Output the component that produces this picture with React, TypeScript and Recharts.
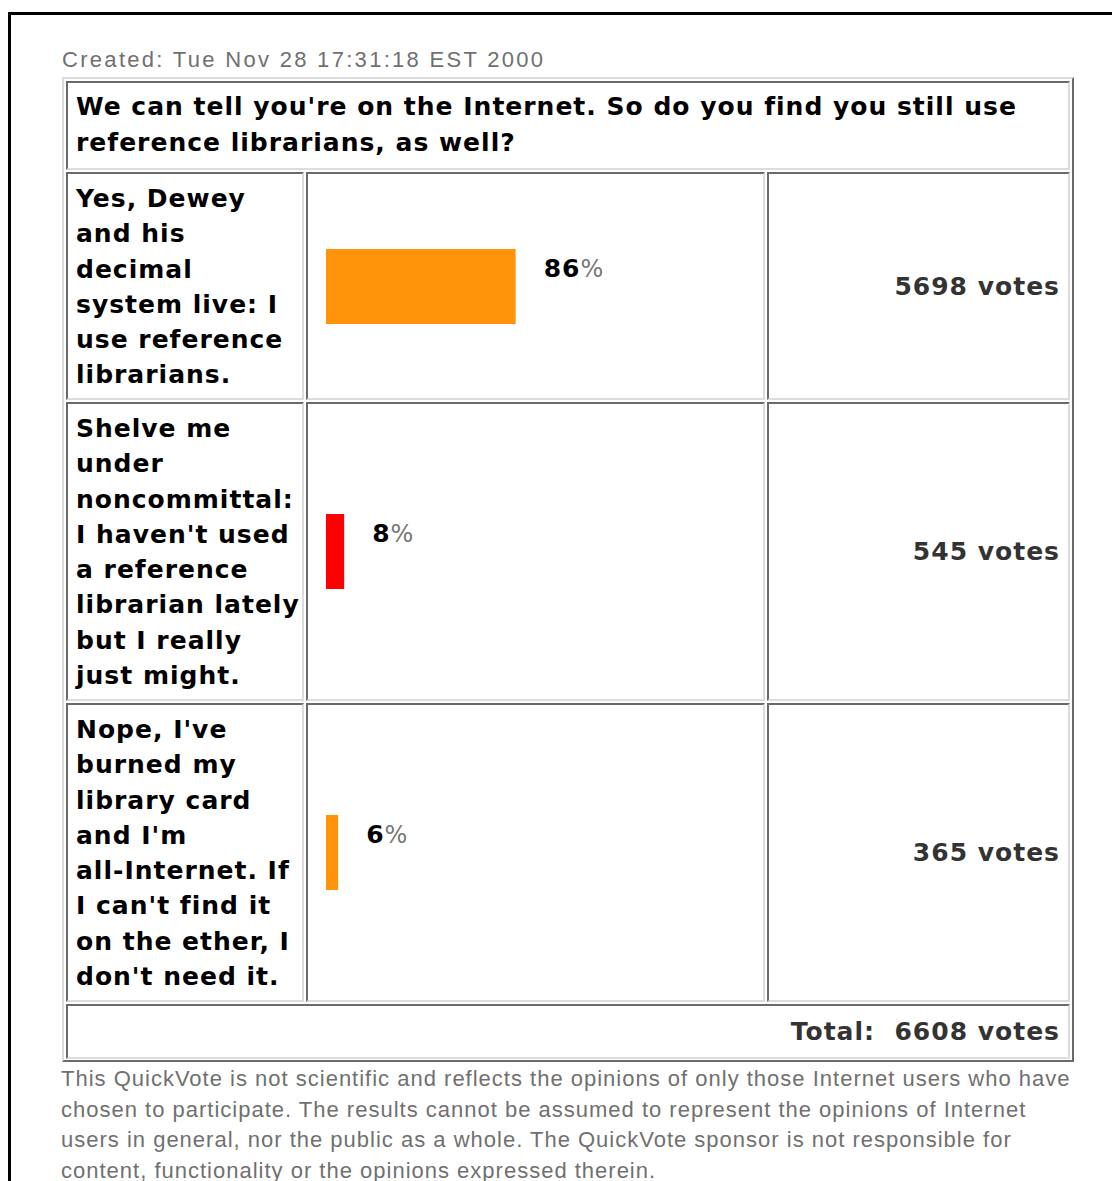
import React from "react";
import { BarChart, Bar, XAxis, YAxis } from "recharts";

const createdText = "Created: Tue Nov 28 17:31:18 EST 2000";
const questionLines = [
  "We can tell you're on the Internet. So do you find you still use",
  "reference librarians, as well?",
];
const answerLines = [
  ["Yes, Dewey", "and his", "decimal", "system live: I", "use reference", "librarians."],
  ["Shelve me", "under", "noncommittal:", "I haven't used", "a reference", "librarian lately", "but I really", "just might."],
  ["Nope, I've", "burned my", "library card", "and I'm", "all-Internet. If", "I can't find it", "on the ether, I", "don't need it."],
];
const answerKeys = ["yes", "noncommittal", "nope"];
const votes = [5698, 545, 365];
const shares = [86.2, 8.25, 5.52];
const barColors = ["#FF940A", "#FF0000", "#FF940A"];
const totalVotes = 6608;
const footerLines = [
  "This QuickVote is not scientific and reflects the opinions of only those Internet users who have",
  "chosen to participate. The results cannot be assumed to represent the opinions of Internet",
  "users in general, nor the public as a whole. The QuickVote sponsor is not responsible for",
  "content, functionality or the opinions expressed therein.",
];

const BOLD = "'DejaVu Sans', Verdana, sans-serif";
const REG = "'Liberation Sans', Arial, sans-serif";

const rowTops = [172, 402, 703];
const rowHeights = [228, 299, 299];

const cellBorder: React.CSSProperties = {
  position: "absolute",
  boxSizing: "border-box",
  borderStyle: "solid",
  borderWidth: 2,
  borderColor: "#6a6a6a #dcdcdc #dcdcdc #6a6a6a",
  background: "#fff",
};

const boldText: React.CSSProperties = {
  fontFamily: BOLD,
  fontWeight: 700,
  fontSize: 25,
  letterSpacing: 1,
  color: "#000",
  whiteSpace: "nowrap",
};

const PctLabel = (props: any) => {
  const { x, y, width, value } = props;
  return (
    <text x={x + width + 28} y={y + 28} fontFamily={BOLD} fontSize={25} fill="#000">
      <tspan fontWeight={700} letterSpacing={1}>{Math.round(value)}</tspan>
      <tspan fontWeight={400} fill="#777" fontSize={24}>%</tspan>
    </text>
  );
};

const BarCell = ({ idx }: { idx: number }) => {
  const data = [{ name: answerKeys[idx], share: shares[idx] }];
  const h = rowHeights[idx] - 4;
  return (
    <BarChart
      width={455}
      height={h}
      data={data}
      layout="vertical"
      margin={{ top: 0, right: 217, bottom: 0, left: 18 }}
    >
      <XAxis type="number" domain={[0, 100]} hide />
      <YAxis type="category" dataKey="name" hide />
      <Bar
        dataKey="share"
        fill={barColors[idx]}
        barSize={75}
        isAnimationActive={false}
        label={<PctLabel />}
      />
    </BarChart>
  );
};

export default function App() {
  return (
    <div
      style={{
        position: "absolute",
        left: 0,
        top: 0,
        width: 1112,
        height: 1181,
        overflow: "hidden",
        background: "#fff",
      }}
    >
      {/* outer frame */}
      <div
        style={{
          position: "absolute",
          left: 8,
          top: 12,
          width: 1200,
          height: 1300,
          borderLeft: "3px solid #000",
          borderTop: "3px solid #000",
        }}
      />
      {/* created */}
      <div
        style={{
          position: "absolute",
          left: 62,
          top: 46,
          fontFamily: REG,
          fontSize: 22,
          lineHeight: "28px",
          color: "#707070",
          letterSpacing: 2.3,
          whiteSpace: "nowrap",
        }}
      >
        {createdText}
      </div>
      {/* table outer */}
      <div
        style={{
          position: "absolute",
          left: 62,
          top: 77,
          width: 1012,
          height: 985,
          boxSizing: "border-box",
          borderStyle: "solid",
          borderWidth: 2,
          borderColor: "#dcdcdc #6a6a6a #6a6a6a #dcdcdc",
        }}
      />
      {/* question */}
      <div style={{ ...cellBorder, left: 66, top: 81, width: 1004, height: 89, paddingLeft: 8, paddingTop: 6 }}>
        {questionLines.map((l, i) => (
          <div key={i} style={{ ...boldText, lineHeight: "36px" }}>
            {l}
          </div>
        ))}
      </div>
      {answerLines.map((lines, r) => (
        <React.Fragment key={r}>
          <div
            style={{
              ...cellBorder,
              left: 66,
              top: rowTops[r],
              width: 238,
              height: rowHeights[r],
              paddingLeft: 8,
              paddingTop: 7,
            }}
          >
            {lines.map((l, i) => (
              <div key={i} style={{ ...boldText, lineHeight: "35.3px" }}>
                {l}
              </div>
            ))}
          </div>
          <div style={{ ...cellBorder, left: 306, top: rowTops[r], width: 459, height: rowHeights[r] }}>
            <BarCell idx={r} />
          </div>
          <div
            style={{
              ...cellBorder,
              left: 767,
              top: rowTops[r],
              width: 303,
              height: rowHeights[r],
              display: "flex",
              alignItems: "center",
              justifyContent: "flex-end",
              paddingRight: 8,
            }}
          >
            <div style={{ ...boldText, color: "#333" }}>{votes[r]} votes</div>
          </div>
        </React.Fragment>
      ))}
      {/* total */}
      <div
        style={{
          ...cellBorder,
          left: 66,
          top: 1004,
          width: 1004,
          height: 55,
          display: "flex",
          alignItems: "center",
          justifyContent: "flex-end",
          paddingRight: 8,
        }}
      >
        <div style={{ ...boldText, color: "#333", whiteSpace: "pre" }}>{"Total:  " + totalVotes + " votes"}</div>
      </div>
      {/* footer */}
      <div style={{ position: "absolute", left: 61, top: 1064 }}>
        {footerLines.map((l, i) => (
          <div
            key={i}
            style={{
              fontFamily: REG,
              fontSize: 22,
              lineHeight: "30.7px",
              color: "#707070",
              letterSpacing: 1.0,
              whiteSpace: "nowrap",
            }}
          >
            {l}
          </div>
        ))}
      </div>
    </div>
  );
}
